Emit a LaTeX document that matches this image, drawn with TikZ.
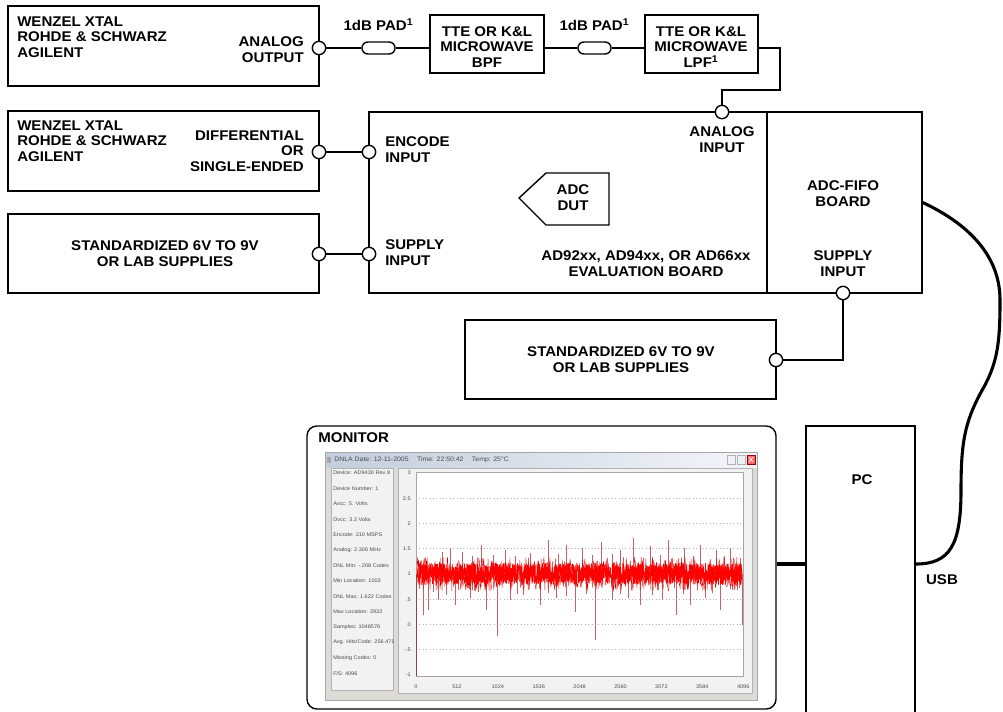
\documentclass[tikz,border=0pt]{standalone}
\usepackage{fontspec}
\setmainfont{Liberation Sans}[FakeStretch=1.07]
\usepackage{tikz}
\usetikzlibrary{positioning}
\usetikzlibrary{fit}
\definecolor{winbody}{HTML}{DCDBD6}
\definecolor{wintitle}{HTML}{C3CDDD}
\definecolor{panelbg}{HTML}{F2F2F2}
\definecolor{spikered}{HTML}{C8606C}
\tikzset{
  box/.style={draw, line width=1pt, inner sep=0pt},
  port/.style={circle, draw, fill=white, line width=1pt, inner sep=0pt, minimum size=9.5pt},
  pad/.style={draw, fill=white, line width=1pt, rounded corners=4.2pt, minimum width=23.5pt, minimum height=8.5pt, inner sep=0pt},
  lbl/.style={inner sep=0pt, align=center},
  tiny/.style={inner sep=0pt, font=\fontsize{3.7}{4.5}\selectfont\mdseries, text=black!70},
  wire/.style={line width=1pt},
  cable/.style={line width=2.2pt},
  spike/.style={spikered, line width=0.3pt},
}

\begin{document}
\begin{tikzpicture}[x=0.025cm, y=-0.025cm, font=\fontsize{10}{11.2}\selectfont\bfseries]
  \useasboundingbox (0,0) rectangle (1003,711);
  \clip (0,0) rectangle (1003,711);

  \node[box, fit={(8,6) (319,86)}] (gen1) {};
  \node[box, fit={(430,15) (544,73)}] (bpf) {};
  \node[box, fit={(645,15) (758,73)}] (lpf) {};
  \node[box, fit={(8,111) (319,191)}] (gen2) {};
  \node[box, fit={(8,214) (319,293)}] (ps1) {};
  \node[box, fit={(369,112) (767,293)}] (eval) {};
  \node[box, fit={(767,112) (922,293)}] (fifo) {};
  \node[box, fit={(465,320) (776,399)}] (ps2) {};
  \node[box, rounded corners=7pt, fit={(307,426) (776,709)}] (mon) {};
  \node[box, fit={(806,426) (915,730)}] (pc) {};
  \draw[line width=1pt] (519,198) -- (546,173) -- (609,173) -- (609,225) -- (546,225) -- cycle;

  \node[port] (pOut) at (319,48) {};
  \node[port] (pDiff) at (319,152) {};
  \node[port] (pPs1) at (319,254) {};
  \node[port] (pEnc) at (369,152) {};
  \node[port] (pSup) at (369,254) {};
  \node[port] (pAin) at (722,112) {};
  \node[port] (pFifo) at (843,293) {};
  \node[port] (pPs2) at (776,360) {};
  \node[pad] (pad1) at (378.5,48) {};
  \node[pad] (pad2) at (594.5,48) {};
  \coordinate (bend) at (780,90);
  \coordinate (lnk) at (790,564);

  \draw[wire] (pOut) -- (pad1) -- (pad1 -| bpf.west);
  \draw[wire] (bpf.east |- pad2) -- (pad2) -- (pad2 -| lpf.west);
  \draw[wire] (lpf.east |- pad2) -| (bend) -| (pAin);
  \draw[wire] (pDiff) -- (pEnc);
  \draw[wire] (pPs1) -- (pSup);
  \draw[wire] (pFifo) |- (pPs2);
  \draw[cable] (mon.east |- lnk) -- (pc.west |- lnk);
  \draw[cable] (pc.east |- lnk) .. controls (950,564) and (961,545) .. (961,490)
    .. controls (961,440) and (965,420) .. (985,385)
    .. controls (998,360) and (1000,340) .. (1000,300)
    .. controls (1000,250) and (960,220) .. (fifo.east);

  \node[lbl, anchor=west, align=left] (tGen1) at (17,37) {WENZEL XTAL\\ROHDE \& SCHWARZ\\AGILENT};
  \node[lbl, anchor=east, align=right] (tAout) at (304,50) {ANALOG\\OUTPUT};
  \node[lbl, above=7.5pt of pad1] (tPad1) {1dB PAD\textsuperscript{1}};
  \node[lbl, above=7.5pt of pad2] (tPad2) {1dB PAD\textsuperscript{1}};
  \node[lbl] (tBpf) at (487,47) {TTE OR K\&L\\MICROWAVE\\BPF};
  \node[lbl] (tLpf) at (701,47) {TTE OR K\&L\\MICROWAVE\\LPF\textsuperscript{1}};
  \node[lbl, anchor=west, align=left] (tGen2) at (17,141) {WENZEL XTAL\\ROHDE \& SCHWARZ\\AGILENT};
  \node[lbl, anchor=east, align=right] (tDiff) at (304,151) {DIFFERENTIAL\\OR\\SINGLE-ENDED};
  \node[lbl] (tPs1) at (165,254) {STANDARDIZED 6V TO 9V\\OR LAB SUPPLIES};
  \node[lbl, anchor=west, align=left] (tEnc) at (385,150) {ENCODE\\INPUT};
  \node[lbl, anchor=west, align=left] (tSup) at (385,253) {SUPPLY\\INPUT};
  \node[lbl] (tAin) at (722,140) {ANALOG\\INPUT};
  \node[lbl] (tDut) at (573,198) {ADC\\DUT};
  \node[lbl] (tEval) at (646,264) {AD92xx, AD94xx, OR AD66xx\\EVALUATION BOARD};
  \node[lbl] (tFifo) at (843,194) {ADC-FIFO\\BOARD};
  \node[lbl] (tFsup) at (843,264) {SUPPLY\\INPUT};
  \node[lbl] (tPs2) at (621,360) {STANDARDIZED 6V TO 9V\\OR LAB SUPPLIES};
  \node[lbl, anchor=west] (tMon) at (318,438) {MONITOR};
  \node[lbl] (tPc) at (862,480) {PC};
  \node[lbl] (tUsb) at (942,580) {USB};

  % screen capture
  \fill[winbody] (325,452) rectangle (757,700);
  \shade[left color=wintitle, right color=white!80!wintitle] (325,452) rectangle (757,467);
  \draw[gray!70, line width=0.4pt] (325,452) rectangle (757,700);
  \fill[gray!70] (327,457) rectangle (331,463);
  \node[tiny, anchor=west, font=\fontsize{4.6}{5}\selectfont] (title) at (334,460) {DNLA Date: 12-11-2005 \quad Time: 22:50:42 \quad Temp: 25°C};
  \foreach \bx in {727,737}
    \draw[gray!60, fill=white!70!wintitle, line width=0.3pt] (\bx,455) rectangle +(8,9);
  \draw[red!60!black, fill=red!60, line width=0.3pt] (747,455) rectangle +(8,9);
  \draw[white, line width=0.5pt] (749,457) -- (753,462) (753,457) -- (749,462);
  \draw[gray!60, fill=panelbg, line width=0.4pt] (331,468) rectangle (393,690);
  \draw[gray!60, fill=panelbg, line width=0.4pt] (398,468) rectangle (752,693);
  \draw[gray!70, fill=white, line width=0.4pt] (416,472) rectangle (743,676);
  \foreach \k in {1,...,7}
    \draw[gray!60, dotted, line width=0.4pt] (416,473+\k*25.25) -- (743,473+\k*25.25);
  \foreach \t [count=\k from 0] in {Device: AD9430 Rev 8, Device Number: 1, Avcc: 5. Volts, Dvcc: 3.3 Volts, Encode: 210 MSPS, Analog: 2.306 MHz, DNL Min: -.208 Codes, Min Location: 1003, DNL Max: 1.622 Codes, Max Location: 2932, Samples: 1048576, Avg. Hits/Code: 256.471, Missing Codes: 0, F/S: 4096}
    \node[tiny, anchor=west] (info\k) at (333,473+\k*15.4) {\t};
  \foreach \v [count=\k from 0] in {3,2.5,2,1.5,1,.5,0,-.5,-1}
    \node[tiny, anchor=east] (yl\k) at (411,473+\k*25.25) {\v};
  \foreach \c [count=\k from 0] in {0,512,...,4096}
    \node[tiny] (xl\k) at (416+\k*40.9,687) {\c};

  \pgfmathsetseed{17}
  \foreach \sx/\sy in {423/615, 428/610, 433/592, 438/600, 446/595, 455/605, 470/598, 478/592, 486/610, 497/636, 510/600, 517/594, 523/595, 540/605, 548/593, 556/598, 566/596, 575/612, 586/594, 595/640, 612/600, 620/594, 628/598, 640/605, 652/595, 662/600, 676/615, 683/594, 690/605, 705/598, 712/593, 720/610, 742/625, 442/552, 450/548, 462/552, 472/556, 481/545, 493/555, 505/550, 515/556, 530/553, 548/540, 558/554, 566/545, 582/548, 592/555, 601/542, 612/554, 620/550, 633/538, 650/546, 660/555, 668/540, 684/548, 693/556, 700/545, 716/550, 724/556, 730/548}
    \draw[spike] (\sx,574) -- (\sx,\sy);
  \draw[red!85!black, line width=0.25pt] plot[domain=417:742, samples=700] (\x, {574+17*rand});
  \draw[red, line width=0.4pt] plot[domain=417:742, samples=2200] (\x, {574+11*rand});
  \draw[spikered!70!black, line width=0.4pt] (416.5,574) -- (416.5,676);
\end{tikzpicture}
\end{document}
